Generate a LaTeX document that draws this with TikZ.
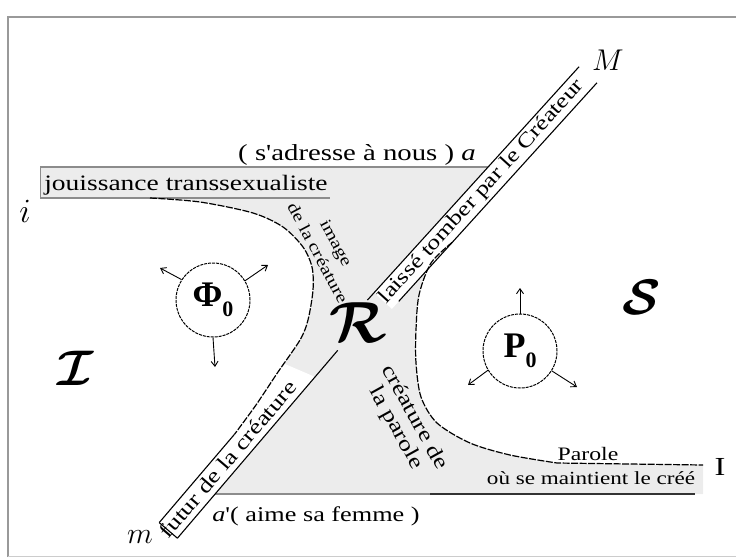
\RequirePackage{fix-cm}
\documentclass[tikz,border=0pt]{standalone}
\usepackage{amsmath,bm}
\usepackage{fontspec}
\newfontfamily\wf[FakeStretch=1.25]{Liberation Serif}
\newfontfamily\lsr{Liberation Serif}
\usetikzlibrary{arrows.meta}
\definecolor{lightfill}{gray}{0.925}
\definecolor{rimgray}{gray}{0.55}
\definecolor{framegray}{gray}{0.6}
\begin{document}
\begin{tikzpicture}[x=1pt,y=-1pt,
  lab/.style={inner sep=0pt, font=\wf\fontsize{#1}{21}\selectfont},
  edgeln/.style={line width=1.1pt, black},
  hyp/.style={line width=1.2pt, dash pattern=on 7pt off 1.5pt},
  rim/.style={line width=1.6pt, color=rimgray},
  ring/.style={circle, draw, line width=1pt, dash pattern=on 3pt off 1pt, minimum size=74pt, inner sep=0pt},
  arr/.style={line width=0.9pt, -{Straight Barb[length=5pt,width=7pt]}},
  scr/.style={inner sep=0pt, font=\fontsize{#1}{#1}\selectfont}
]
\useasboundingbox (0,0) rectangle (736,557);
% frame
\draw[framegray, line width=1.5pt] (8,557) -- (8,17) -- (736,17);
\draw[framegray!50, line width=1pt] (8,556) -- (736,556);
% shaded region between the two branches
\fill[lightfill] (40,167) -- (520.6,167) -- (452.4,242.2)
  -- plot[smooth] coordinates {(452.4,242.2) (431,263) (419,295) (416,330) (416,363) (421,397) (437,423) (470,443) (510,455) (557,463)}
  -- (703,465) -- (703,494) -- (183.6,494) -- (234.4,434.4)
  -- plot[smooth] coordinates {(234.4,434.4) (256,405) (278,372) (300,340) (308,320) (313,290) (312,267) (303,247) (283,227) (253,213) (200,202) (150,198)}
  -- (40,198) -- cycle;
% band interiors
\fill[white] (374.1,292.7) -- (579.1,66.65) -- (596.9,82.85) -- (391.9,308.9) -- cycle;
\fill[white] (177.4,538.2) -- (315,376.9) -- (285,364) -- (278,372) -- (256,405) -- (234.4,434.4) -- (159.2,522.6) -- cycle;
% horizontal rims
\draw[rim] (40,167) -- (488.1,167);
\draw[rim] (40,198) -- (330,198);
\draw[rim, line width=1pt] (40,167) -- (40,198);
\draw[rim] (215,494) -- (430,494);
\draw[line width=2pt, black!80] (430,494) -- (695,494);
% diagonal bands
\draw[edgeln] (367.4,300.1) -- (579.1,66.65);
\draw[edgeln] (398.7,301.4) -- (596.9,82.85);
\draw[edgeln] (177.4,538.2) -- (337.7,350.4);
\draw[edgeln] (159.2,522.6) -- (234.4,434.4);
\draw[edgeln] (159.2,522.6) -- (177.4,538.2);
% hyperbola branches
\draw[hyp] plot[smooth] coordinates {(150,198) (200,202) (253,213) (283,227) (303,247) (312,267) (313,290) (308,320) (300,340) (278,372) (256,405) (234.4,434.4)};
\draw[hyp] plot[smooth] coordinates {(452.4,242.2) (431,263) (419,295) (416,330) (416,363) (421,397) (437,423) (470,443) (510,455) (557,463)} -- (703,465);
% texts
\node[lab=23] (adr) at (357,155) {( s'adresse à nous ) {\itshape a}};
\node[lab=22] (jou) at (186,185) {jouissance transsexualiste};
\node[lab=16.5, rotate=-62, align=center] (img) at (327,248) {image\\de la créature};
\node[lab=20.5, rotate=47.8] (lai) at (481.8,191.8) {laissé tomber par le Créateur};
\node[lab=21, rotate=49.5] (fut) at (228,459) {futur de la créature};
\node[lab=21, rotate=-61, align=center] (cre) at (405,423) {créature de\\la parole};
\node[lab=19] (par) at (588,454) {Parole};
\node[lab=18.5] (ou) at (591,478) {où se maintient le créé};
\node[lab=21] (aim) at (316,516) {{\itshape a}'( aime sa femme )};
% letters
\node[scr=34] (li) at (25,211) {$i$};
\node[scr=30] (lM) at (608,60) {$M$};
\node[scr=30] (lm) at (140,537) {$m$};
\node[lab=26] (lI) at (720,467) {I};
\node[scr=58] (sR) at (358,323) {$\bm{\mathcal{R}}$};
\node[scr=50] (sS) at (642,297) {$\bm{\mathcal{S}}$};
\node[scr=50] (sI) at (76,368) {$\bm{\mathcal{I}}$};
% circles
\node[ring, font=\lsr\bfseries\fontsize{36}{40}\selectfont] (phi) at (213,300) {Φ\raisebox{-0.28em}{\fontsize{22}{22}\selectfont 0}};
\node[ring, font=\lsr\bfseries\fontsize{36}{40}\selectfont] (p0) at (520,351) {P\raisebox{-0.28em}{\fontsize{22}{22}\selectfont 0}};
\coordinate (phiUL) at (160,268);
\coordinate (phiUR) at (268,265);
\coordinate (phiD) at (215,367);
\coordinate (p0U) at (520,288);
\coordinate (p0L) at (468,385);
\coordinate (p0R) at (577,387);
\draw[arr] (phi.147) -- (phiUL);
\draw[arr] (phi.31) -- (phiUR);
\draw[arr] (phi.270) -- (phiD);
\draw[arr] (p0.90) -- (p0U);
\draw[arr] (p0.211) -- (p0L);
\draw[arr] (p0.328) -- (p0R);
\end{tikzpicture}
\end{document}
